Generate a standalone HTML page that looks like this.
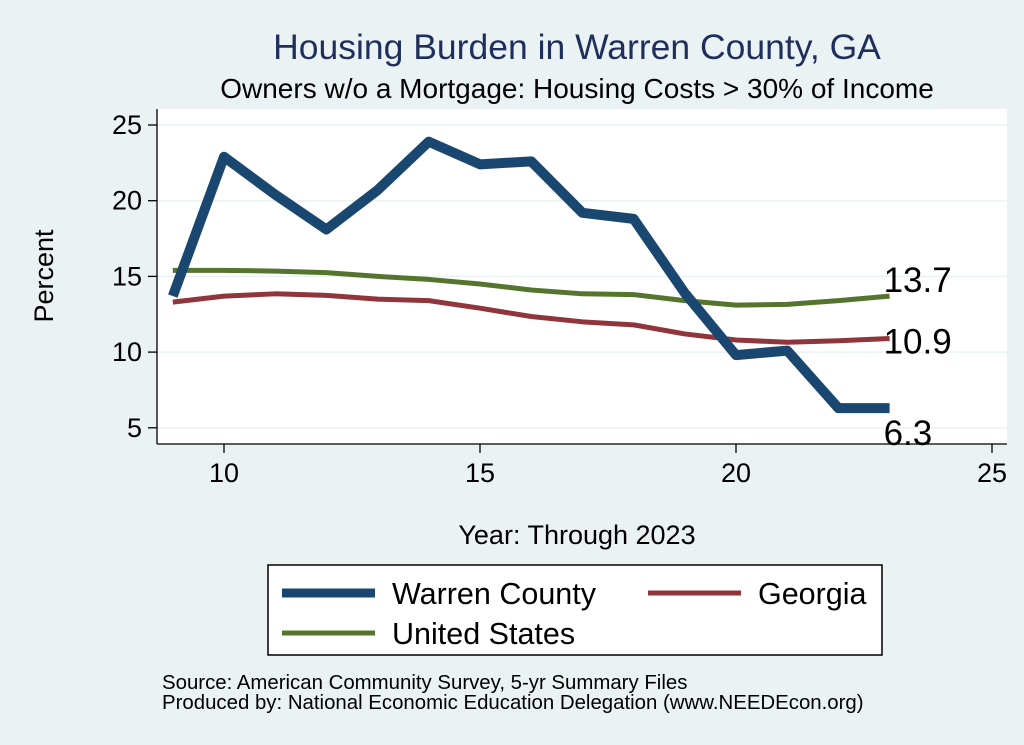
<!DOCTYPE html>
<html><head><meta charset="utf-8"><style>
body{margin:0;background:#eaf2f3;font-family:"Liberation Sans",sans-serif}
svg{display:block}
</style></head><body>
<svg width="1024" height="745" font-family="Liberation Sans, sans-serif">
<rect x="0" y="0" width="1024" height="745" fill="#eaf2f3"/>
<rect x="157" y="109" width="850" height="335" fill="#fff"/>
<text x="577" y="59" text-anchor="middle" font-size="35.5" fill="#1f2f5c">Housing Burden in Warren County, GA</text>
<text x="577" y="98" text-anchor="middle" font-size="28" fill="#000">Owners w/o a Mortgage: Housing Costs &gt; 30% of Income</text>
<g id="grid"></g><g id="axes"></g><g id="series"></g>
<text x="53" y="276" text-anchor="middle" font-size="27" transform="rotate(-90 53 276)">Percent</text>
<text x="577" y="544" text-anchor="middle" font-size="27">Year: Through 2023</text>
<g>
<rect x="268" y="565" width="614" height="90" fill="#fff" stroke="#000" stroke-width="1.5"/>
<line x1="282" y1="593" x2="375" y2="593" stroke="#1a476f" stroke-width="9"/>
<text x="392" y="604" font-size="30.5">Warren County</text>
<line x1="648" y1="593" x2="741" y2="593" stroke="#90353b" stroke-width="5"/>
<text x="758" y="604" font-size="30.5">Georgia</text>
<line x1="282" y1="633" x2="375" y2="633" stroke="#55752f" stroke-width="5"/>
<text x="392" y="644" font-size="30.5">United States</text>
</g>
<text x="162" y="689" font-size="20.4">Source: American Community Survey, 5-yr Summary Files</text>
<text x="162" y="709" font-size="20.4">Produced by: National Economic Education Delegation (www.NEEDEcon.org)</text>
</svg>
<script>
const years=[9,10,11,12,13,14,15,16,17,18,19,20,21,22,23];
const warren=[13.7,22.9,20.4,18.1,20.7,23.9,22.4,22.6,19.2,18.8,13.9,9.8,10.1,6.3,6.3];
const georgia=[13.3,13.7,13.85,13.75,13.5,13.4,12.9,12.35,12.0,11.8,11.2,10.8,10.65,10.75,10.9];
const us=[15.4,15.4,15.35,15.25,15.0,14.8,14.5,14.1,13.85,13.8,13.4,13.1,13.15,13.4,13.7];
const yTicks=[5,10,15,20,25];
const xTicks=[10,15,20,25];
const NS='http://www.w3.org/2000/svg';
const X=v=>224+(v-10)*51.2;
const Y=v=>125+(25-v)*15.14;
function mk(t,a,p){const e=document.createElementNS(NS,t);for(const k in a)e.setAttribute(k,a[k]);p.appendChild(e);return e;}
const grid=document.getElementById('grid'),axes=document.getElementById('axes'),ser=document.getElementById('series');
yTicks.forEach(v=>{
 const g=mk('line',{x1:157,x2:1007,y1:Y(v),y2:Y(v),stroke:'#eaf2f3','stroke-width':1.5},grid);
 
 
 mk('line',{x1:148,x2:157,y1:Y(v),y2:Y(v),stroke:'#000','stroke-width':1.3},axes);
 const t=mk('text',{x:142,y:Y(v)+9,'text-anchor':'end','font-size':27},axes);t.textContent=v;
 
 
});
xTicks.forEach(v=>{
 mk('line',{x1:X(v),x2:X(v),y1:444,y2:453,stroke:'#000','stroke-width':1.3},axes);
 const t=mk('text',{x:X(v),y:482,'text-anchor':'middle','font-size':27},axes);t.textContent=v;
 
 
});
mk('line',{x1:157,x2:157,y1:109,y2:444,stroke:'#000','stroke-width':1.3},axes);
mk('line',{x1:157,x2:1007,y1:444,y2:444,stroke:'#000','stroke-width':1.3},axes);
function line(d,c,w,name){
 const p=mk('polyline',{points:d.map((v,i)=>X(years[i])+','+Y(v)).join(' '),fill:'none',stroke:c,'stroke-width':w,'stroke-linejoin':'round'},ser);
 
 
}
line(us,'#55752f',5,'us-line');
line(georgia,'#90353b',5,'georgia-line');
line(warren,'#1a476f',10,'warren-line');
function lab(d,dy,name){
 const v=d[d.length-1];
 const t=mk('text',{x:X(years[years.length-1])-6,y:Y(v)+dy,'font-size':35},ser);t.textContent=v.toFixed(1);
 
 
}
lab(us,-4,'us-end-label');lab(georgia,15,'georgia-end-label');lab(warren,37,'warren-end-label');
</script>
</body></html>
